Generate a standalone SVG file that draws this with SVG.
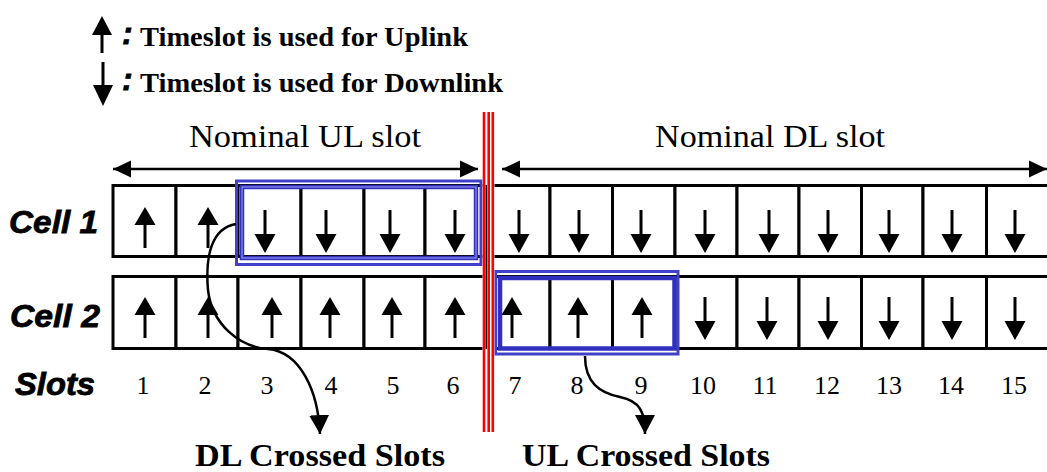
<svg xmlns="http://www.w3.org/2000/svg" xmlns:xlink="http://www.w3.org/1999/xlink" width="1047" height="472" viewBox="0 0 1047 472">
<style>
.serif{font-family:"Liberation Serif","Times New Roman",serif;fill:#000}
.bold{font-weight:bold}
.lab{font-family:"Liberation Sans",Arial,sans-serif;font-weight:bold;font-style:italic;font-size:32px;fill:#000;stroke:#000;stroke-width:0.8}
.num{font-size:26px;text-anchor:middle}
.cell{fill:#fff;stroke:#000;stroke-width:3}
.shaft{stroke:#000;stroke-width:3;fill:none}
.blueO{fill:none;stroke:#4040c8;stroke-width:3}
.blueI{fill:none;stroke:#3030c0;stroke-width:4.5}
.blueL{fill:none;stroke:#a0a0ee;stroke-width:1}
.red{stroke:#ff0000;stroke-width:2.6}
.conn{fill:none;stroke:#000;stroke-width:2.5}
.dim{stroke:#000;stroke-width:2.5}
</style>
<defs>
<g id="up"><polygon points="0,0 -10.5,18 10.5,18" fill="#000"/><line class="shaft" x1="0" y1="15" x2="0" y2="41"/></g>
<g id="dn"><polygon points="0,0 -10.5,-19 10.5,-19" fill="#000"/><line class="shaft" x1="0" y1="-17" x2="0" y2="-43"/></g>
<marker id="ah" markerUnits="userSpaceOnUse" markerWidth="20" markerHeight="20" viewBox="0 0 18 18" refX="17" refY="9" orient="auto"><polygon points="0,0 17,9 0,18" fill="#000"/></marker>
<marker id="dimL" markerUnits="userSpaceOnUse" markerWidth="18" markerHeight="18" viewBox="0 0 17 16" refX="0" refY="8" orient="auto"><polygon points="0,8 17,0 17,16" fill="#000"/></marker>
<marker id="dimR" markerUnits="userSpaceOnUse" markerWidth="18" markerHeight="18" viewBox="0 0 17 16" refX="17" refY="8" orient="auto"><polygon points="17,8 0,0 0,16" fill="#000"/></marker>
</defs>
<rect width="1047" height="472" fill="#fff"/>

<g id="legend">
<polygon points="102,16 92,35 112,35" fill="#000"/><line class="shaft" x1="102" y1="32" x2="102" y2="53"/>
<polygon points="103,106 93,85 113,85" fill="#000"/><line class="shaft" x1="103" y1="62" x2="103" y2="88"/>
<text class="lab" x="122" y="44" font-size="28">:</text>
<text class="lab" x="122" y="90" font-size="28">:</text>
<text class="serif bold" x="140" y="46" font-size="28" textLength="328" lengthAdjust="spacingAndGlyphs">Timeslot is used for Uplink</text>
<text class="serif bold" x="140" y="92" font-size="28" textLength="363" lengthAdjust="spacingAndGlyphs">Timeslot is used for Downlink</text>
</g>

<g id="nominal-ul">
<line class="dim" x1="113" y1="169" x2="478" y2="169" marker-start="url(#dimL)" marker-end="url(#dimR)"/>
<text class="serif" x="189" y="147" font-size="32" textLength="232" lengthAdjust="spacingAndGlyphs">Nominal UL slot</text>
</g>
<g id="nominal-dl">
<line class="dim" x1="502" y1="169" x2="1047" y2="169" marker-start="url(#dimL)" marker-end="url(#dimR)"/>
<text class="serif" x="655" y="147" font-size="32" textLength="230" lengthAdjust="spacingAndGlyphs">Nominal DL slot</text>
</g>

<g id="row-labels">
<text class="lab" x="9" y="233" textLength="89" lengthAdjust="spacingAndGlyphs">Cell 1</text>
<text class="lab" x="10" y="327" textLength="90" lengthAdjust="spacingAndGlyphs">Cell 2</text>
<text class="lab" x="15" y="395" textLength="80" lengthAdjust="spacingAndGlyphs">Slots</text>
</g>

<g id="cell1">
<rect class="cell" x="113" y="185.5" width="63" height="71"/>
<rect class="cell" x="176" y="185.5" width="62" height="71"/>
<rect class="cell" x="238" y="185.5" width="63" height="71"/>
<rect class="cell" x="301" y="185.5" width="63" height="71"/>
<rect class="cell" x="364" y="185.5" width="61" height="71"/>
<rect class="cell" x="425" y="185.5" width="61.5" height="71"/>
<rect class="cell" x="486.5" y="185.5" width="63.5" height="71"/>
<rect class="cell" x="550" y="185.5" width="62.5" height="71"/>
<rect class="cell" x="612.5" y="185.5" width="62.5" height="71"/>
<rect class="cell" x="675" y="185.5" width="62" height="71"/>
<rect class="cell" x="737" y="185.5" width="62" height="71"/>
<rect class="cell" x="799" y="185.5" width="62.5" height="71"/>
<rect class="cell" x="861.5" y="185.5" width="61.5" height="71"/>
<rect class="cell" x="923" y="185.5" width="63.5" height="71"/>
<rect class="cell" x="986.5" y="185.5" width="63" height="71"/>
<use xlink:href="#up" x="145" y="207"/>
<use xlink:href="#up" x="208" y="207"/>
<use xlink:href="#dn" x="265" y="253"/>
<use xlink:href="#dn" x="326" y="253"/>
<use xlink:href="#dn" x="390" y="253"/>
<use xlink:href="#dn" x="455" y="253"/>
<use xlink:href="#dn" x="519" y="253"/>
<use xlink:href="#dn" x="579" y="253"/>
<use xlink:href="#dn" x="641" y="253"/>
<use xlink:href="#dn" x="705" y="253"/>
<use xlink:href="#dn" x="769" y="253"/>
<use xlink:href="#dn" x="828" y="253"/>
<use xlink:href="#dn" x="889" y="253"/>
<use xlink:href="#dn" x="952" y="253"/>
<use xlink:href="#dn" x="1015" y="253"/>
</g>

<g id="cell2">
<rect class="cell" x="113" y="276.5" width="63" height="72"/>
<rect class="cell" x="176" y="276.5" width="62" height="72"/>
<rect class="cell" x="238" y="276.5" width="63" height="72"/>
<rect class="cell" x="301" y="276.5" width="63" height="72"/>
<rect class="cell" x="364" y="276.5" width="61" height="72"/>
<rect class="cell" x="425" y="276.5" width="61.5" height="72"/>
<rect class="cell" x="486.5" y="276.5" width="63.5" height="72"/>
<rect class="cell" x="550" y="276.5" width="62.5" height="72"/>
<rect class="cell" x="612.5" y="276.5" width="62.5" height="72"/>
<rect class="cell" x="675" y="276.5" width="62" height="72"/>
<rect class="cell" x="737" y="276.5" width="62" height="72"/>
<rect class="cell" x="799" y="276.5" width="62.5" height="72"/>
<rect class="cell" x="861.5" y="276.5" width="61.5" height="72"/>
<rect class="cell" x="923" y="276.5" width="63.5" height="72"/>
<rect class="cell" x="986.5" y="276.5" width="63" height="72"/>
<use xlink:href="#up" x="145" y="297"/>
<use xlink:href="#up" x="208" y="297"/>
<use xlink:href="#up" x="272" y="297"/>
<use xlink:href="#up" x="330" y="297"/>
<use xlink:href="#up" x="392" y="297"/>
<use xlink:href="#up" x="455" y="297"/>
<use xlink:href="#up" x="512" y="297"/>
<use xlink:href="#up" x="578" y="297"/>
<use xlink:href="#up" x="642" y="297"/>
<use xlink:href="#dn" x="705" y="340"/>
<use xlink:href="#dn" x="767" y="340"/>
<use xlink:href="#dn" x="828" y="340"/>
<use xlink:href="#dn" x="889" y="340"/>
<use xlink:href="#dn" x="952" y="340"/>
<use xlink:href="#dn" x="1015" y="340"/>
</g>

<g id="slot-numbers" class="serif num">
<text x="143" y="394">1</text>
<text x="205" y="394">2</text>
<text x="267" y="394">3</text>
<text x="331" y="394">4</text>
<text x="393" y="394">5</text>
<text x="453" y="394">6</text>
<text x="515" y="394">7</text>
<text x="577" y="394">8</text>
<text x="641" y="394">9</text>
<text x="703" y="394">10</text>
<text x="765" y="394">11</text>
<text x="827" y="394">12</text>
<text x="889" y="394">13</text>
<text x="951" y="394">14</text>
<text x="1014" y="394">15</text>
</g>

<g id="dl-crossed-box">
<rect class="blueO" x="236.5" y="181" width="244.5" height="83.5"/>
<rect class="blueI" x="242" y="187" width="234" height="71"/>
<rect class="blueL" x="242" y="187" width="234" height="71"/>
</g>
<g id="ul-crossed-box">
<rect class="blueO" x="495.5" y="271.5" width="182.5" height="82.5"/>
<rect class="blueI" x="500" y="278" width="174.5" height="70.5"/>
</g>

<g id="separator">
<rect x="482.5" y="112" width="12" height="320" fill="#fff"/>
<line class="red" x1="484" y1="112" x2="484" y2="432"/>
<line x1="486.3" y1="185" x2="486.3" y2="349" stroke="#000" stroke-width="1.5"/>
<line class="red" x1="488.7" y1="112" x2="488.7" y2="432"/>
<line class="red" x1="492.8" y1="112" x2="492.8" y2="432"/>
</g>

<g id="connectors">
<path class="conn" d="M 236,224 C 212,228 205,255 208,290 C 212,325 240,347 268,349 C 300,352 318,390 320,434" marker-end="url(#ah)"/>
<path class="conn" d="M 585,356 C 585,383 600,393 620,397 C 640,401 645,412 645,434" marker-end="url(#ah)"/>
</g>

<g id="crossed-labels">
<text class="serif bold" x="195" y="466" font-size="32" textLength="250" lengthAdjust="spacingAndGlyphs">DL Crossed Slots</text>
<text class="serif bold" x="522" y="466" font-size="32" textLength="248" lengthAdjust="spacingAndGlyphs">UL Crossed Slots</text>
</g>
</svg>
